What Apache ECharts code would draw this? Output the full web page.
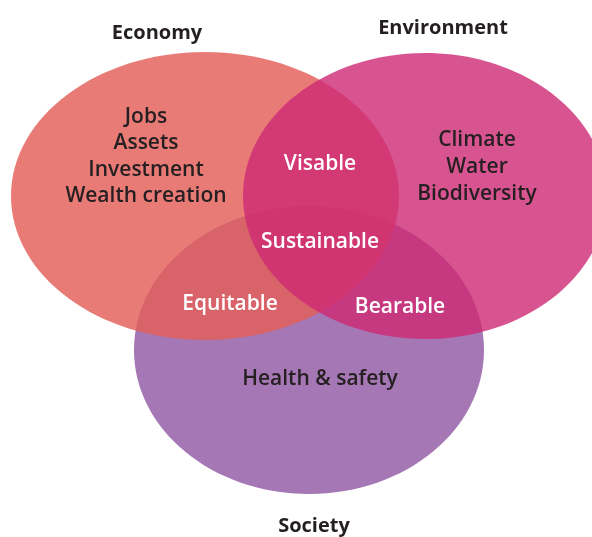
<!DOCTYPE html>
<html><head><meta charset="utf-8">
<script src="https://cdn.jsdelivr.net/npm/echarts@6/dist/echarts.min.js"></script>
<style>html,body{margin:0;padding:0;background:#fff}#c{width:592px;height:537px}</style>
</head><body><div id="c"></div>
<script>
// ---- data ----
const sets = ['Economy', 'Environment', 'Society'];
const economyItems = ['Jobs', 'Assets', 'Investment', 'Wealth creation'];
const environmentItems = ['Climate', 'Water', 'Biodiversity'];
const societyItems = ['Health & safety'];
const overlapNames = ['Visable', 'Equitable', 'Bearable', 'Sustainable'];
const overlapSets = [['Economy','Environment'], ['Economy','Society'], ['Environment','Society'], ['Economy','Environment','Society']];

// ---- layout (pixel space of the 592x537 canvas) ----
const layout = {
  ellipse: { Economy: [205, 196, 194, 144], Environment: [425, 196, 182, 143], Society: [309, 350, 175, 144] },
  title: { Economy: [157, 33], Environment: [443, 28], Society: [314, 526] },
  items: { Economy: [146, 117, 26.3], Environment: [477, 140, 27], Society: [320, 379, 27] },
  overlap: { Visable: [320, 164], Equitable: [230, 304], Bearable: [400, 307], Sustainable: [320, 242] },
  drawOrder: ['Society', 'Economy', 'Environment']
};
const styles = {
  fill: { Economy: 'rgb(227,94,88)', Environment: 'rgb(206,41,116)', Society: 'rgb(165,120,181)' },
  opacity: { Economy: 0.82, Environment: 0.8, Society: 1 },
  dark: '#251f21', light: '#ffffff',
  font: '"Open Sans", "Noto Sans", sans-serif'
};

const itemLists = { Economy: economyItems, Environment: environmentItems, Society: societyItems };

const ellipseData = layout.drawOrder.map(n => [...layout.ellipse[n], sets.indexOf(n)]);
const textData = [];
sets.forEach(n => textData.push([layout.title[n][0], layout.title[n][1], n, 'title']));
sets.forEach(n => {
  const [x, y, lh] = layout.items[n];
  itemLists[n].forEach((t, i) => textData.push([x, y + i * lh, t, 'item']));
});
overlapNames.forEach(n => textData.push([layout.overlap[n][0], layout.overlap[n][1], n, 'overlap']));

const chart = echarts.init(document.getElementById('c'));
chart.setOption({
  animation: false,
  grid: { left: 0, right: 0, top: 0, bottom: 0 },
  xAxis: { type: 'value', min: 0, max: 592, show: false },
  yAxis: { type: 'value', min: 0, max: 537, inverse: true, show: false },
  series: [
    {
      type: 'custom', coordinateSystem: 'cartesian2d', data: ellipseData, clip: false,
      renderItem: (params, api) => {
        const c = api.coord([api.value(0), api.value(1)]);
        const s = api.size([api.value(2), api.value(3)]);
        const name = sets[api.value(4)];
        return {
          type: 'ellipse',
          shape: { cx: c[0], cy: c[1], rx: s[0], ry: s[1] },
          style: { fill: styles.fill[name], opacity: styles.opacity[name] }
        };
      }
    },
    {
      type: 'custom', coordinateSystem: 'cartesian2d', data: textData, clip: false,
      renderItem: (params, api) => {
        const d = textData[params.dataIndex];
        const c = api.coord([d[0], d[1]]);
        const kind = d[3];
        return {
          type: 'text', x: c[0], y: c[1],
          style: {
            text: d[2], align: 'center', verticalAlign: 'middle',
            fill: kind === 'overlap' ? styles.light : styles.dark,
            fontFamily: styles.font, fontWeight: kind === 'title' ? 700 : 600,
            fontSize: kind === 'title' ? 20 : 21
          }
        };
      }
    }
  ]
});
</script></body></html>
